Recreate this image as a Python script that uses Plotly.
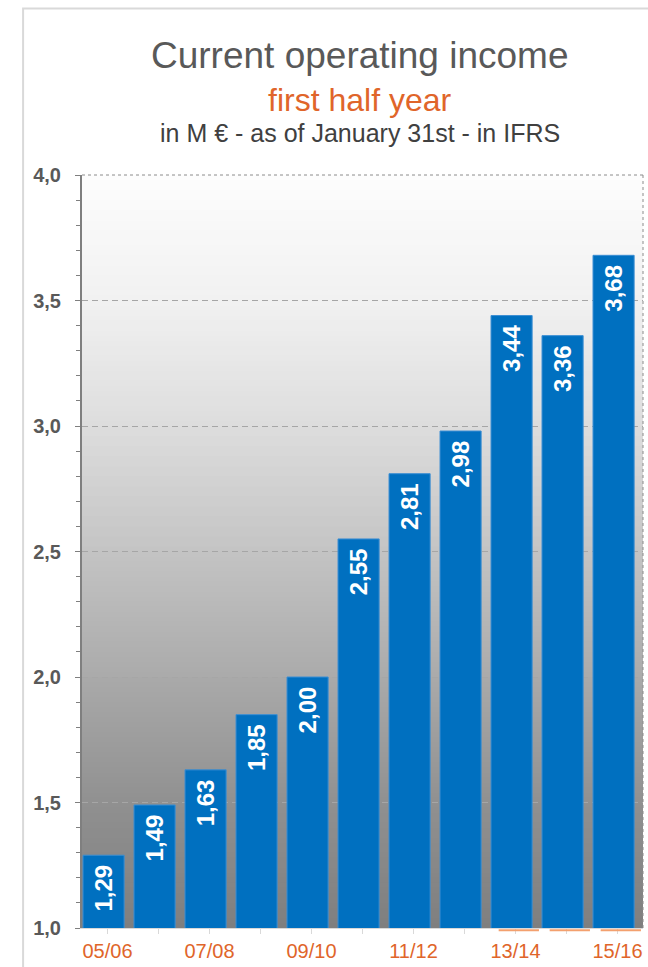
import plotly.graph_objects as go

categories = ["05/06", "06/07", "07/08", "08/09", "09/10", "10/11",
              "11/12", "12/13", "13/14", "14/15", "15/16"]
values = [1.29, 1.49, 1.63, 1.85, 2.00, 2.55, 2.81, 2.98, 3.44, 3.36, 3.68]
tick_text = [c if i % 2 == 0 else "" for i, c in enumerate(categories)]

FONT = "Arial, Liberation Sans, sans-serif"
ORANGE = "#E0652A"
BLUE = "#0070C0"

fig = go.Figure()
fig.add_trace(go.Bar(
    x=categories, y=values,
    width=0.806, offset=-0.48,
    marker=dict(color=BLUE, line=dict(color="#3B8ED3", width=1)),
    texttemplate="%{y:.2f}\u00a0", textposition="inside", insidetextanchor="end",
    textangle=-90,
    textfont=dict(family=FONT, size=24, color="white", weight="bold"),
    cliponaxis=False,
))

# gradient background bands (white at top -> gray at bottom)
stops = [(4.0, 253), (3.5, 241), (3.0, 221), (2.5, 196), (2.0, 170), (1.5, 144), (1.0, 127)]
shapes = []
n = 150
for k in range(n):
    y0 = 1.0 + 3.0 * k / n
    y1 = min(4.0, 1.0 + 3.0 * (k + 1) / n + 0.012)
    ym = 1.0 + 3.0 * (k + 0.5) / n
    for (ya, ca), (yb, cb) in zip(stops[1:], stops[:-1]):
        if ya <= ym <= yb:
            t = (ym - ya) / (yb - ya)
            c = int(round(ca + (cb - ca) * t))
            break
    shapes.append(dict(type="rect", xref="paper", yref="y", x0=0, x1=1, y0=y0, y1=y1,
                       fillcolor=f"rgb({c},{c},{c})", line=dict(width=0), layer="below"))

# outer frame
shapes.append(dict(type="rect", xref="paper", yref="paper", x0=-0.105, x1=1.3, y0=-0.3, y1=1.221,
                   line=dict(color="#D9D9D9", width=2), fillcolor="rgba(0,0,0,0)", layer="below"))
# plot area top and right dotted border
shapes.append(dict(type="line", xref="paper", yref="paper", x0=0, x1=1, y0=1, y1=1,
                   line=dict(color="#8C8C8C", width=1, dash="dot")))
shapes.append(dict(type="line", xref="paper", yref="paper", x0=1, x1=1, y0=0, y1=1,
                   line=dict(color="#8C8C8C", width=1, dash="dot")))
# orange underline artifacts below last three categories
for i in (8, 9, 10):
    shapes.append(dict(type="line", xref="x", yref="paper", x0=i - 0.33, x1=i + 0.46,
                       y0=-0.003, y1=-0.003, line=dict(color="#F3A06E", width=2)))

annotations = [
    dict(text="Current operating income", x=360, y=55,
         font=dict(family=FONT, size=37, color="#595959")),
    dict(text="first half year", x=360, y=100, font=dict(family=FONT, size=32, color=ORANGE)),
    dict(text="in M € - as of January 31st - in IFRS", x=360, y=133,
         font=dict(family=FONT, size=25, color="#404040")),
]
# convert pixel positions to paper coords
L, R, T, B, W, H = 82, 5, 175, 36, 648, 967
pw, ph = W - L - R, H - T - B
for a in annotations:
    a["x"] = (a["x"] - L) / pw
    a["y"] = (H - B - a["y"]) / ph
    a.update(xref="paper", yref="paper", showarrow=False, xanchor="center", yanchor="middle")

fig.update_layout(
    width=W, height=H,
    margin=dict(l=L, r=R, t=T, b=B, pad=0),
    paper_bgcolor="white", plot_bgcolor="rgba(0,0,0,0)",
    separators=",.",
    showlegend=False,
    bargap=0.2,
    shapes=shapes,
    annotations=annotations,
    xaxis=dict(
        type="category", tickmode="array", tickvals=categories, ticktext=tick_text,
        range=[-0.5, 10.5], showgrid=False,
        showline=True, linecolor="#D9D9D9", linewidth=1,
        ticks="outside", ticklen=5, tickcolor="#D9D9D9",
        tickfont=dict(family=FONT, size=20, color=ORANGE),
        fixedrange=True,
    ),
    yaxis=dict(
        range=[1.0, 4.0], tickmode="linear", tick0=1.0, dtick=0.5, tickformat=".1f",
        showgrid=True, gridcolor="#A6A6A6", griddash="6px,4px", gridwidth=1,
        showline=True, linecolor="#7F7F7F", linewidth=2,
        ticks="outside", ticklen=5, tickcolor="#7F7F7F",
        minor=dict(dtick=0.1, ticks="outside", ticklen=4, tickcolor="#7F7F7F", showgrid=False),
        tickfont=dict(family=FONT, size=20, color="#595959", weight="bold"),
        ticklabelstandoff=10,
        zeroline=False, fixedrange=True,
    ),
)

fig.write_html("out.html", config={"displayModeBar": False},
               post_script="document.body.style.margin='0';document.body.style.overflow='hidden';")
